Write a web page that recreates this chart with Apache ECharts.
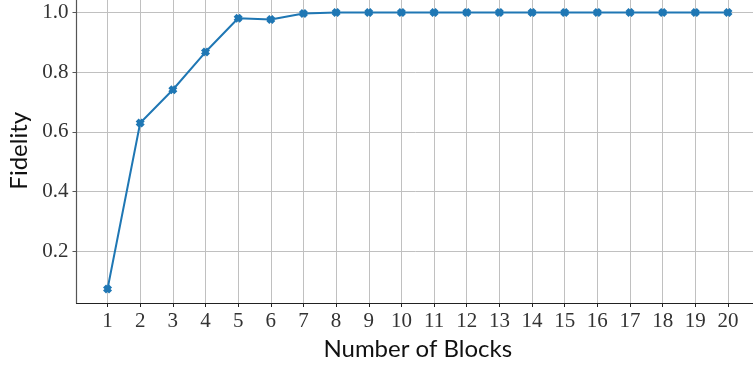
<!DOCTYPE html>
<html><head><meta charset="utf-8">
<script src="https://cdn.jsdelivr.net/npm/echarts@6/dist/echarts.min.js"></script>
<style>html,body{margin:0;padding:0;background:#fff}#c{width:753px;height:366px}</style>
</head><body><div id="c"></div>
<script>
const blocks = [1,2,3,4,5,6,7,8,9,10,11,12,13,14,15,16,17,18,19,20];
const fidelity = [0.075,0.630,0.741,0.867,0.980,0.976,0.996,0.999,0.999,0.9995,0.9995,0.9995,0.9995,0.9995,0.9995,0.9995,0.9995,0.9995,0.9995,0.9995];
const yTicks = [0.2,0.4,0.6,0.8,1.0];
const xTicks = blocks;

const chart = echarts.init(document.getElementById('c'), null, {renderer:'canvas'});
const serif = 'Liberation Serif';
chart.setOption({
  animation:false,
  grid:{left:76.5, top:-1.5, width:682.5, height:304.5, containLabel:false, outerBoundsMode:'none'},
  xAxis:{type:'value', min:0.05, max:20.95,
    name:'Number of Blocks', nameLocation:'middle', nameGap:33,
    nameTextStyle:{fontFamily:'Lato', fontSize:24, color:'#111'},
    axisLine:{show:true, lineStyle:{color:'#222', width:1.2}},
    axisTick:{show:true, length:4, customValues:xTicks, lineStyle:{color:'#222'}},
    axisLabel:{customValues:xTicks, fontFamily:serif, fontSize:21, color:'#333', margin:8},
    splitLine:{show:true, lineStyle:{color:'#c0c0c0', width:1}}
  },
  yAxis:{type:'value', min:0.028, max:1.046,
    name:'Fidelity', nameLocation:'middle', nameGap:41, nameRotate:90,
    nameTextStyle:{fontFamily:'Lato', fontSize:24, color:'#111'},
    axisLine:{show:true, lineStyle:{color:'#555', width:1.2}},
    axisTick:{show:true, length:4, customValues:yTicks, lineStyle:{color:'#555'}},
    axisLabel:{customValues:yTicks, fontFamily:serif, fontSize:21, color:'#333', margin:8,
      formatter:v=>v.toFixed(1)},
    splitLine:{show:true, lineStyle:{color:'#c0c0c0', width:1}}
  },
  series:[{type:'line', data:blocks.map((b,i)=>[b,fidelity[i]]),
    lineStyle:{color:'#1f77b4', width:2}, itemStyle:{color:'#1f77b4'},
    symbol:'path://M-1,-3L0,-2L1,-3L3,-1L2,0L3,1L1,3L0,2L-1,3L-3,1L-2,0L-3,-1Z', symbolSize:9, showSymbol:true}]
});
</script></body></html>
